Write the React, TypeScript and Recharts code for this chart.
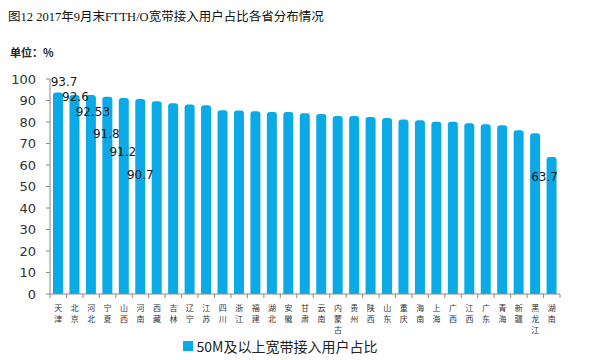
import React from 'react';
import { BarChart, Bar, XAxis, YAxis, Legend, LabelList } from 'recharts';

const provinces = [
  '天津', '北京', '河北', '宁夏', '山西', '河南', '西藏', '吉林', '辽宁', '江苏',
  '四川', '浙江', '福建', '湖北', '安徽', '甘肃', '云南', '内蒙古', '贵州', '陕西',
  '山东', '重庆', '海南', '上海', '广西', '江西', '广东', '青海', '新疆', '黑龙江', '湖南',
];
const shares = [
  93.7, 92.6, 92.53, 91.8, 91.2, 90.7, 89.6, 88.7, 88.1, 87.8,
  85.5, 85.3, 85.0, 84.6, 84.6, 84.1, 83.7, 82.8, 82.8, 82.3,
  81.9, 81.2, 80.8, 80.1, 80.1, 79.4, 78.9, 78.5, 76.2, 74.8, 63.7,
];
const shownLabels = [
  '93.7', '92.6', '92.53', '91.8', '91.2', '90.7', '', '', '', '',
  '', '', '', '', '', '', '', '', '', '',
  '', '', '', '', '', '', '', '', '', '', '63.7',
];
const yTicks = [0, 10, 20, 30, 40, 50, 60, 70, 80, 90, 100];

const seriesName = '50M及以上宽带接入用户占比';
const barColor = '#0BA9E6';
const numFont = "'DejaVu Sans', 'Noto Sans CJK SC', sans-serif";

const data = provinces.map((p, i) => ({ name: p, value: shares[i], label: shownLabels[i] }));

// where each value label sits relative to the bar top (dx, dy)
const labelShift: Record<number, [number, number]> = {
  0: [6, -11], 1: [1, 2], 2: [2, 17], 3: [-1, 37], 4: [-1, 54], 5: [0, 76], 30: [-7, 20],
};

const ValueLabel = (props: any) => {
  const { x, y, width, index, value } = props;
  if (!value) return null;
  const [dx, dy] = labelShift[index] || [0, -8];
  return (
    <text x={x + width / 2 + dx} y={y + dy} textAnchor="middle" dominantBaseline="central"
      fontSize={12} fill="#1a1a1a" fontFamily={numFont}>
      {value}
    </text>
  );
};

const ProvinceTick = (props: any) => {
  const { x, y, payload, index, visibleTicksCount } = props;
  const band = 510 / provinces.length;
  const chars = String(payload.value).split('');
  return (
    <g>
      <line x1={x - band / 2} x2={x - band / 2} y1={y - 8} y2={y - 4} stroke="#8a8a8a" />
      {index === visibleTicksCount - 1 && (
        <line x1={x + band / 2} x2={x + band / 2} y1={y - 8} y2={y - 4} stroke="#8a8a8a" />
      )}
      {chars.map((c, i) => (
        <text key={i} x={x} y={y + 5 + i * 11} textAnchor="middle" dominantBaseline="central"
          fontSize={8} fill="#333" fontFamily="'Noto Sans CJK SC', sans-serif">
          {c}
        </text>
      ))}
    </g>
  );
};

const LegendBox = () => (
  <div style={{ display: 'flex', alignItems: 'center', justifyContent: 'center', paddingLeft: 0 }}>
    <span style={{ width: 10, height: 10, background: barColor, display: 'inline-block', marginRight: 4 }} />
    <span style={{ fontSize: 14, color: '#222', fontFamily: "'Noto Sans CJK SC', sans-serif" }}>{seriesName}</span>
  </div>
);

export default function App() {
  return (
    <div style={{ position: 'absolute', left: 0, top: 0, width: 601, height: 360, background: '#fff' }}>
      <div style={{
        position: 'absolute', left: 8, top: 8, fontSize: 12.5, color: '#111', whiteSpace: 'nowrap',
        fontFamily: "'Liberation Serif', 'Noto Sans CJK SC', serif", lineHeight: '18px',
      }}>
        图12 2017年9月末FTTH/O宽带接入用户占比各省分布情况
      </div>
      <div style={{
        position: 'absolute', left: 10, top: 44, fontSize: 11, fontWeight: 'bold', color: '#222',
        fontFamily: "'Noto Sans CJK SC', sans-serif", lineHeight: '16px',
      }}>
        单位：%
      </div>
      <BarChart width={601} height={360} data={data}
        margin={{ top: 79, right: 41, bottom: 4, left: 0 }} barCategoryGap={0}>
        <XAxis dataKey="name" interval={0} height={42} tickLine={false}
          axisLine={{ stroke: '#8a8a8a' }} tick={<ProvinceTick />} />
        <YAxis domain={[0, 100]} ticks={yTicks} width={50} tickSize={4} tickMargin={10}
          axisLine={{ stroke: '#8a8a8a' }} tickLine={{ stroke: '#8a8a8a' }}
          tick={{ fontSize: 13, fill: '#333', fontFamily: numFont }} />
        <Legend verticalAlign="bottom" height={20} content={<LegendBox />} />
        <Bar dataKey="value" name={seriesName} fill={barColor} barSize={10}
          radius={[3, 3, 0, 0]} isAnimationActive={false}>
          <LabelList dataKey="label" content={<ValueLabel />} />
        </Bar>
      </BarChart>
    </div>
  );
}
